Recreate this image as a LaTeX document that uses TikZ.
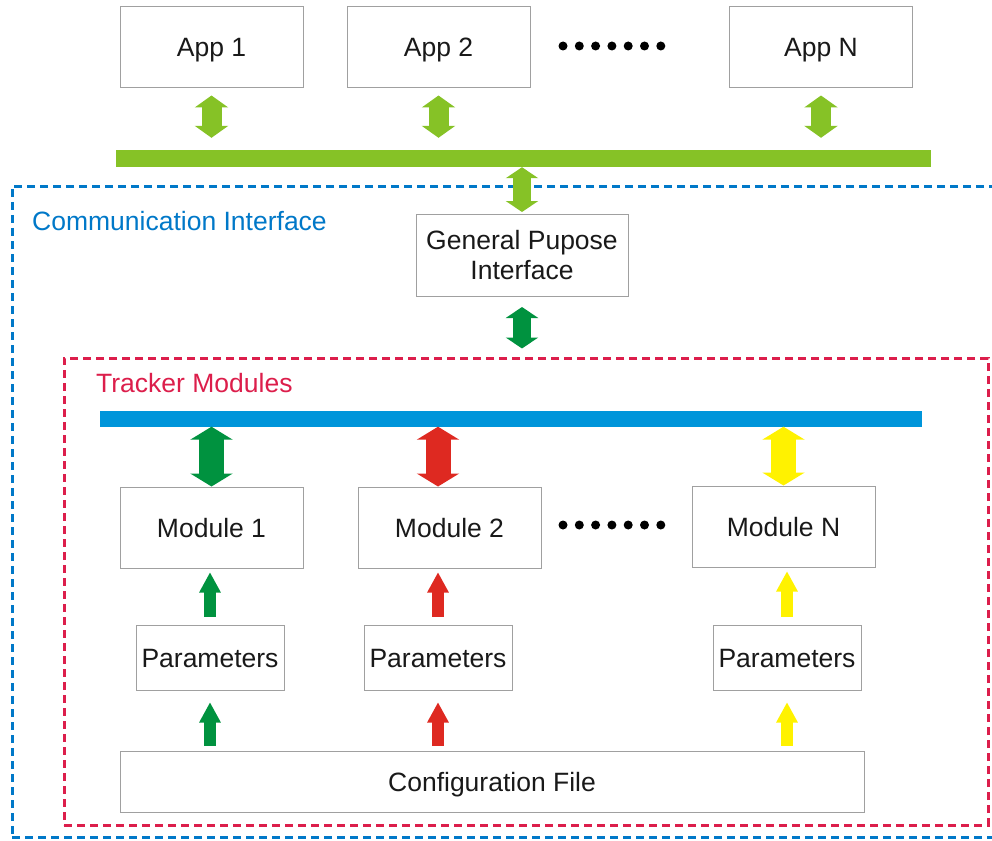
\documentclass[tikz,border=0pt]{standalone}
\usepackage{fontspec}
\setmainfont{Liberation Sans}
\usepackage{tikz}
\usepackage{xcolor}
\usetikzlibrary{arrows.meta}
\definecolor{appgreen}{RGB}{134,194,38}
\definecolor{modgreen}{RGB}{0,146,63}
\definecolor{modred}{RGB}{222,41,33}
\definecolor{modyellow}{RGB}{255,242,0}
\definecolor{busblue}{RGB}{0,149,218}
\definecolor{commblue}{RGB}{0,120,200}
\definecolor{trackred}{RGB}{220,30,75}
\definecolor{boxgray}{RGB}{160,160,160}

\begin{document}
\begin{tikzpicture}[x=1pt,y=-1pt,
		box/.style={draw=boxgray,line width=1pt,text=black!90,font=\fontsize{26.5}{30}\selectfont},
		onerow/.style={box,text height=19pt,text depth=0pt},
		appbox/.style={onerow,minimum width=183,minimum height=81},
		parbox/.style={onerow,minimum width=148,minimum height=65},
		frame/.style={line width=3pt,dash pattern=on 8pt off 5pt},
		appdbl/.style={line width=20pt,{Triangle[width=33pt,length=12pt,line width=3pt]}-{Triangle[width=33pt,length=12pt,line width=3pt]}},
		gpidbl/.style={line width=18pt,{Triangle[width=32pt,length=11pt,line width=3pt]}-{Triangle[width=32pt,length=11pt,line width=3pt]}},
		moddbl/.style={line width=25pt,{Triangle[width=42pt,length=13pt,line width=3pt]}-{Triangle[width=42pt,length=13pt,line width=3pt]}},
		parup/.style={line width=12pt,-{Triangle[width=21pt,length=20pt,line width=3pt]}}]
			\tikzstyle{every node}+=[inner sep=0pt]
			\useasboundingbox (0,0) rectangle (992,840);
			\clip (0,0) rectangle (992,840);
			\node[appbox] (app1) at (211.5,47.5) {App 1};
			\node[appbox] (app2) at (438.5,47.5) {App 2};
			\node[appbox] (appN) at (821,47.5) {App N};
			\node[fill=appgreen,minimum width=815,minimum height=17] (appbus) at (523.5,158.5) {};
			\node[frame,draw=commblue,minimum width=986,minimum height=651] (comm) at (505,511.5) {};
			\node[anchor=west,text=commblue,font=\fontsize{26.5}{30}\selectfont] (commlabel) at (32,221) {Communication Interface};
			\node[box,minimum width=212,minimum height=82,align=center] (gpi) at (522,255.5) {General Pupose\\Interface};
			\node[frame,draw=trackred,minimum width=924,minimum height=467] (track) at (526,591.5) {};
			\node[anchor=west,text=trackred,font=\fontsize{26.5}{30}\selectfont] (tracklabel) at (96,383) {Tracker Modules};
			\node[fill=busblue,minimum width=822,minimum height=16] (modbus) at (511,418.5) {};
			\node[appbox] (mod1) at (211.5,527.5) {Module 1};
			\node[appbox] (mod2) at (449.5,527.5) {Module 2};
			\node[appbox] (modN) at (783.5,526.5) {Module N};
			\node[parbox] (par1) at (210,657.5) {Parameters};
			\node[parbox] (par2) at (438,657.5) {Parameters};
			\node[parbox] (parN) at (787,657.5) {Parameters};
			\node[onerow,minimum width=744,minimum height=61] (config) at (492,781.5) {Configuration File};
			\foreach \i in {0,...,6} {
				\fill (563+16.3*\i,46) circle [radius=4.5pt];
				\fill (563+16.3*\i,525) circle [radius=4.5pt];
			}
			\foreach \a in {app1,app2,appN}
				\draw[appdbl,appgreen,shorten <=7pt,shorten >=12pt] (\a.south) -- (\a |- appbus.north);
			\draw[gpidbl,appgreen,shorten <=2pt] (gpi.north) -- (gpi |- appbus.south);
			\draw[gpidbl,modgreen,shorten <=10pt,shorten >=8pt] (gpi.south) -- (gpi |- track.north);
			\draw[moddbl,modgreen] (mod1 |- modbus.south) -- (mod1.north);
			\draw[moddbl,modred] (par2 |- modbus.south) -- (par2 |- mod2.north);
			\draw[moddbl,modyellow] (modN |- modbus.south) -- (modN.north);
			\foreach \p/\m/\c in {par1/mod1/modgreen,par2/mod2/modred,parN/modN/modyellow} {
				\draw[parup,\c,shorten <=8pt,shorten >=4pt] (\p.north) -- (\p |- \m.south);
				\draw[parup,\c,shorten <=5pt,shorten >=12pt] (\p |- config.north) -- (\p.south);
			}
		\end{tikzpicture}
\end{document}
